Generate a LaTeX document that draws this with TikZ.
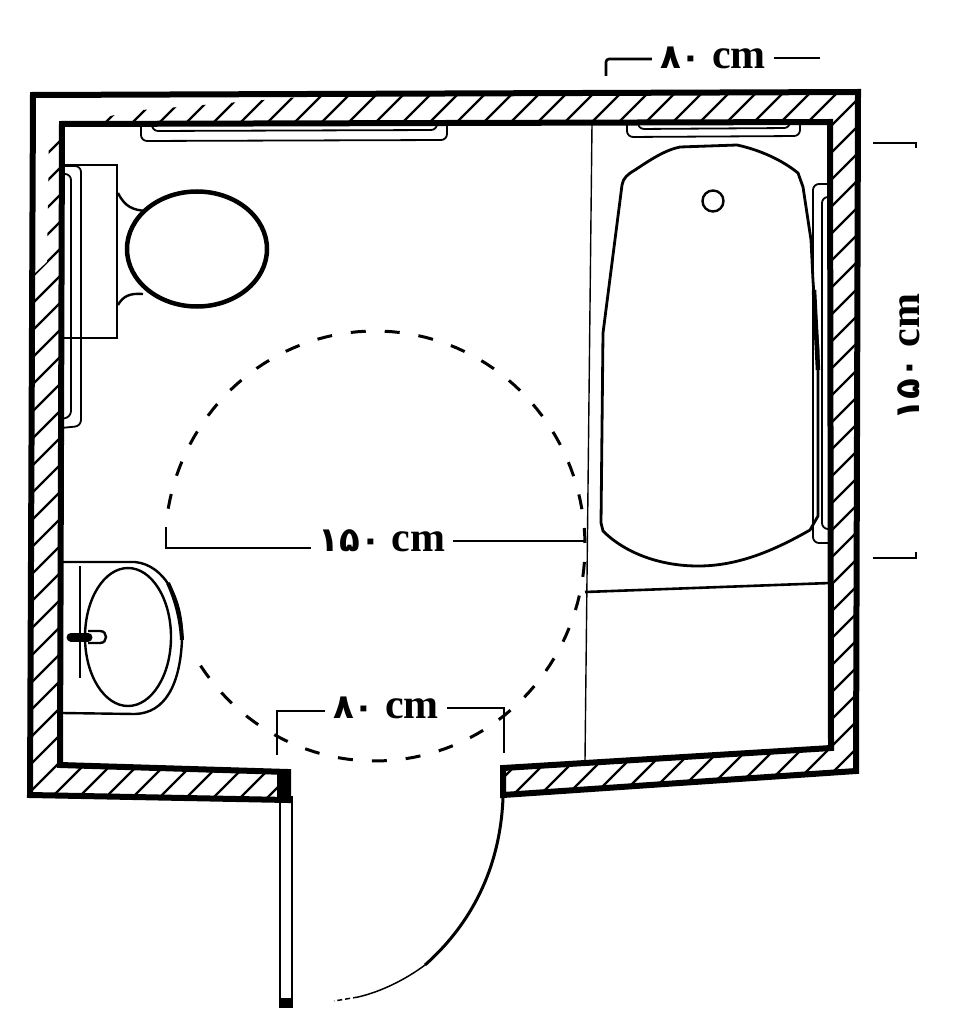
\documentclass[tikz,border=0pt]{standalone}
\usepackage{fontspec}
\setmainfont{Liberation Serif}
\newfontfamily\numfont[Script=Arabic]{DejaVu Sans}
\usetikzlibrary{shapes.geometric}
\tikzstyle{wall} = [line width=6pt, line join=miter]
\tikzstyle{hatching} = [line width=2.4pt]
\tikzstyle{fixture} = [line width=2.4pt]
\tikzstyle{heavy} = [line width=4.5pt]
\tikzstyle{bar} = [line width=1.8pt, rounded corners=6pt]
\tikzstyle{partition} = [line width=1.4pt]
\tikzstyle{turning} = [line width=3pt, dash pattern=on 15pt off 19pt]
\tikzstyle{dim} = [line width=2.6pt]
\tikzstyle{dimtext} = [font=\fontsize{42}{46}\selectfont\bfseries, inner sep=8pt, text=black]
\newcommand{\arnum}[1]{{\numfont\fontsize{34}{40}\selectfont #1}}
\begin{document}
\begin{tikzpicture}[x=1pt, y=-1pt]
\useasboundingbox (0,0) rectangle (959,1024);
\begin{scope}
\clip (300,97) -- (858,92) -- (857,770) -- (503,795) -- (503,768) -- (832,748) -- (830,122) -- (62,124) -- (60,765) -- (288,772) -- (288,800) -- (30,795) -- (33,275) -- (47,262) -- (49,132) -- (130,111) -- cycle;
\foreach \c in {120,147,...,1680} \draw [hatching] (\c,0) -- (0,\c);
\end{scope}
\draw [wall] (33,95) -- (858,92) -- (856,771) -- (503,795) -- (503,768) -- (831,748) -- (830,122) -- (62,124) -- (60,765) -- (288,772) -- (288,800) -- (30,795) -- cycle;
\fill (277,772) rectangle (291,800);
\draw [partition] (592,124) -- (585,760);
\draw [line width=2.6pt] (585,592) -- (830,583);
\draw [bar] (141,125) -- (141,141) -- (447,140) -- (447,124);
\draw [bar] (152,125) -- (152,131) -- (437,130) -- (437,124);
\draw [bar] (627,124) -- (627,137) -- (800,136) -- (800,124);
\draw [bar] (638,124) -- (638,129) -- (790,128) -- (790,124);
\draw [bar] (64,166) -- (81,166) -- (81,426) -- (61,428);
\draw [bar] (64,174) -- (71,174) -- (71,417) -- (61,419);
\draw [bar] (829,184) -- (813,184) -- (813,543) -- (829,543);
\draw [bar] (829,197) -- (822,197) -- (822,529) -- (829,529);
\draw [fixture] (64,165) -- (117,165) -- (117,338) -- (64,338);
\draw [fixture] (118,193) .. controls (125,207) and (133,210) .. (146,211);
\draw [fixture] (118,305) .. controls (123,296) and (130,293) .. (143,294);
\node (bowl) [heavy, draw, ellipse, minimum width=140pt, minimum height=115pt, inner sep=0pt] at (197,249) {};
\draw [fixture] (62,562) -- (135,562) .. controls (165,565) and (183,600) .. (182,640) .. controls (180,685) and (165,713) .. (135,714) -- (62,713);
\draw [line width=4pt] (168,583) .. controls (176,600) and (181,620) .. (182,640);
\node (basin) [fixture, draw, ellipse, minimum width=86pt, minimum height=138pt, inner sep=0pt] at (128,637) {};
\draw [line width=1.2pt] (80,566) -- (80,678);
\draw [line width=9pt, line cap=round] (71,637) -- (88,637);
\draw [fixture] (88,631) -- (100,631) .. controls (108,631) and (108,643) .. (100,643) -- (88,643);
\draw [line width=2.8pt, line join=round] (622,185) .. controls (623,178) and (628,174) .. (635,170) .. controls (650,160) and (665,150) .. (680,147) -- (737,145) .. controls (760,150) and (782,160) .. (798,173) -- (803,187) -- (811,240) -- (813,281) -- (818,350) -- (818,516) -- (810,530) .. controls (770,553) and (735,566) .. (698,566) .. controls (660,566) and (625,553) .. (603,531) -- (601,523) -- (603,333) -- cycle;
\draw [line width=4.5pt] (814,290) -- (818,370);
\node (drain) [fixture, draw, circle, minimum size=21pt, inner sep=0pt] at (713,201) {};
\draw [turning] plot [domain=170:-148, samples=140] ({375+210*cos(\x)}, {546-215*sin(\x)});
\draw [line width=2.6pt] (280,796) -- (280,1005) -- (292,1005) -- (292,796);
\fill (279,998) rectangle (293,1008);
\draw [line width=3pt] (503,798) .. controls (500,870) and (470,925) .. (425,965);
\draw [line width=1.5pt] (425,965) .. controls (405,980) and (380,992) .. (358,997);
\draw [line width=1.5pt, dash pattern=on 5pt off 3pt] (358,997) -- (334,1001);
\node (dim_top) [dimtext] at (713,58) {\arnum{۸۰} cm};
\coordinate (top_l) at (606,76);
\coordinate (top_c) at (606,59);
\coordinate (top_r) at (820,58);
\draw [dim, rounded corners=3pt] (dim_top.west |- top_c) -- (top_c) -- (top_l);
\draw [dim] (dim_top.east |- top_r) -- (top_r);
\node (dim_mid) [dimtext] at (382,541) {\arnum{۱۵۰} cm};
\coordinate (mid_c) at (166,548);
\coordinate (mid_t) at (166,527);
\coordinate (mid_r) at (585,541);
\draw [dim] (dim_mid.west |- mid_c) -- (mid_c) -- (mid_t);
\draw [dim] (dim_mid.east |- mid_r) -- (mid_r);
\node (dim_door) [dimtext] at (386,708) {\arnum{۸۰} cm};
\coordinate (door_l) at (277,755);
\coordinate (door_lc) at (277,711);
\coordinate (door_r) at (504,753);
\coordinate (door_rc) at (504,708);
\draw [dim] (dim_door.west |- door_lc) -- (door_lc) -- (door_l);
\draw [dim] (dim_door.east |- door_rc) -- (door_rc) -- (door_r);
\node (dim_side) [dimtext, rotate=90] at (909,357) {\arnum{۱۵۰} cm};
\coordinate (side_a) at (873,143);
\coordinate (side_b) at (916,143);
\coordinate (side_c) at (873,558);
\coordinate (side_d) at (916,558);
\draw [dim] (side_a) -- (side_b) -- +(0,5);
\draw [dim] (side_c) -- (side_d) -- +(0,-6);
\end{tikzpicture}
\end{document}
